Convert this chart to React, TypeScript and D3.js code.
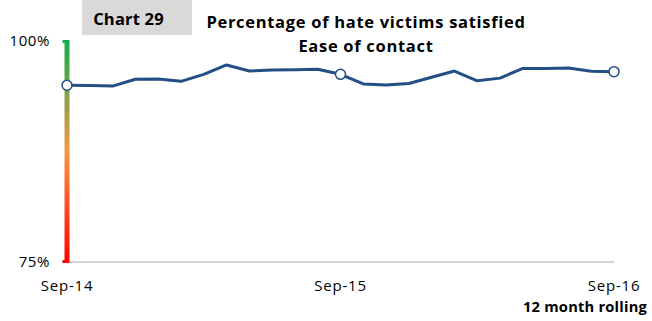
import React from "react";
import * as d3 from "d3";

const months: string[] = [
  "Sep-14","Oct-14","Nov-14","Dec-14","Jan-15","Feb-15","Mar-15","Apr-15","May-15","Jun-15","Jul-15","Aug-15",
  "Sep-15","Oct-15","Nov-15","Dec-15","Jan-16","Feb-16","Mar-16","Apr-16","May-16","Jun-16","Jul-16","Aug-16","Sep-16",
];
const satisfied: number[] = [
  95.0, 94.97, 94.9, 95.67, 95.7, 95.44, 96.23, 97.29, 96.6, 96.72, 96.75, 96.8,
  96.23, 95.14, 95.02, 95.2, 95.9, 96.6, 95.5, 95.8, 96.9, 96.9, 96.95, 96.57, 96.53,
];
const xTickLabels: string[] = ["Sep-14", "Sep-15", "Sep-16"];
const yTicks: number[] = [75, 100];
const markerIdx: number[] = [0, 12, 24];

const W = 652;
const H = 321;
const FONT = "'Open Sans', 'Liberation Sans', sans-serif";

export default function App() {
  const x = d3.scaleLinear().domain([0, months.length - 1]).range([67, 614]);
  const y = d3.scaleLinear().domain([75, 100]).range([262, 41]);
  const line = d3
    .line<number>()
    .x((_, i) => x(i))
    .y((d) => y(d));

  return (
    <svg
      width={W}
      height={H}
      style={{ position: "absolute", left: 0, top: 0, background: "#fff" }}
      fontFamily={FONT}
    >
      <defs>
        <linearGradient id="ragGrad" x1="0" y1="0" x2="0" y2="1">
          <stop offset="0" stopColor="#12ad4b" />
          <stop offset="0.5" stopColor="#f79646" />
          <stop offset="1" stopColor="#ff0000" />
        </linearGradient>
      </defs>

      {/* Chart number box */}
      <rect x={82} y={0} width={110} height={35} fill="#d9d9d9" />
      <text x={128.5} y={25} textAnchor="middle" fontSize={16.5} fontWeight="bold" letterSpacing={0.2} fill="#000">
        Chart 29
      </text>

      {/* Title */}
      <text x={366} y={27.5} textAnchor="middle" fontSize={16.5} fontWeight="bold" letterSpacing={0.7} fill="#000">
        Percentage of hate victims satisfied
      </text>
      <text x={366} y={52} textAnchor="middle" fontSize={16.5} fontWeight="bold" letterSpacing={0.7} fill="#000">
        Ease of contact
      </text>

      {/* x axis line */}
      <line x1={x(0)} x2={x(months.length - 1)} y1={y(75)} y2={y(75)} stroke="#a6a6a6" strokeWidth={1.2} />

      {/* gradient y axis bar */}
      <rect x={x(0) - 2.5} y={y(100) - 1} width={5} height={y(75) - y(100) + 2} fill="url(#ragGrad)" />
      <rect x={x(0) - 4.5} y={y(100) - 1} width={3} height={3} fill="#12ad4b" />
      <rect x={x(0) - 4.5} y={y(75) - 2} width={3} height={3} fill="#ff0000" />

      {/* y tick labels */}
      {yTicks.map((t) => (
        <text key={t} x={50} y={y(t)} dy="0.35em" textAnchor="end" fontSize={15} letterSpacing={0.6} fill="#000">
          {t}%
        </text>
      ))}

      {/* x tick labels */}
      {xTickLabels.map((lbl) => {
        const i = months.indexOf(lbl);
        return (
          <text key={lbl} x={x(i)} y={291} textAnchor="middle" fontSize={15} letterSpacing={0.8} fill="#000">
            {lbl}
          </text>
        );
      })}
      <text x={647} y={311.5} textAnchor="end" fontSize={14.7} fontWeight="bold" letterSpacing={0.2} fill="#000">
        12 month rolling
      </text>

      {/* data line */}
      <path d={line(satisfied) ?? ""} fill="none" stroke="#244e86" strokeWidth={3} strokeLinejoin="round" />
      {markerIdx.map((i) => (
        <circle key={i} cx={x(i)} cy={y(satisfied[i])} r={5} fill="#fff" stroke="#244e86" strokeWidth={1.5} />
      ))}
    </svg>
  );
}
